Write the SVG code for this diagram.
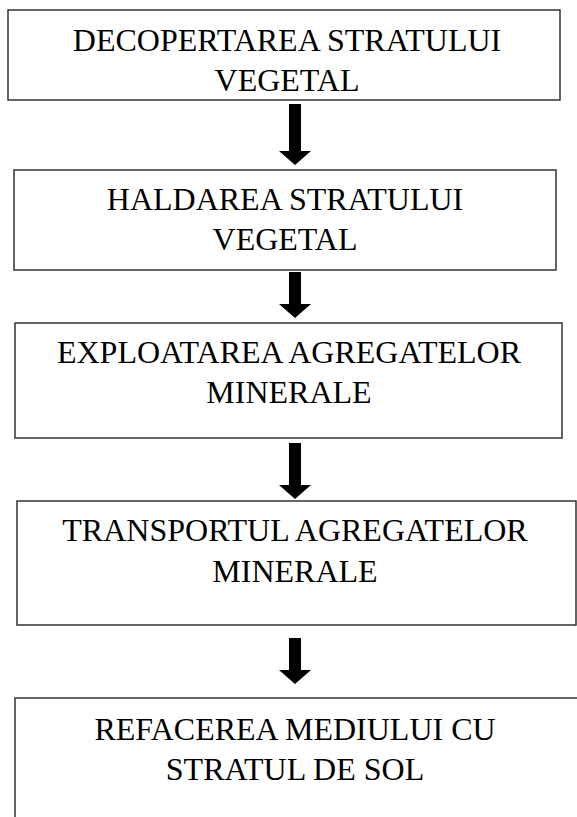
<svg xmlns="http://www.w3.org/2000/svg" width="577" height="817" viewBox="0 0 577 817">
<style>
.box{fill:#fff;stroke:#333;stroke-width:1.5}
.t{font-family:"Liberation Serif","Times New Roman",serif;font-size:32px;fill:#000;text-anchor:middle}
.arr{fill:#000}
</style>
<rect width="577" height="817" fill="#fff"/>
<defs>
<path id="arrow" d="M-6,0 H6 V47 H16 L0,61 L-16,47 H-6 Z"/>
</defs>
<g id="n1"><rect class="box" x="8" y="10" width="552" height="90"/>
<text class="t" x="287" y="51">DECOPERTAREA STRATULUI</text>
<text class="t" x="287" y="91">VEGETAL</text></g>
<g id="n2"><rect class="box" x="14" y="170" width="542" height="100"/>
<text class="t" x="285" y="210">HALDAREA STRATULUI</text>
<text class="t" x="285" y="250">VEGETAL</text></g>
<g id="n3"><rect class="box" x="15" y="323" width="547" height="115"/>
<text class="t" x="289" y="363">EXPLOATAREA AGREGATELOR</text>
<text class="t" x="289" y="403">MINERALE</text></g>
<g id="n4"><rect class="box" x="17" y="501" width="559" height="124"/>
<text class="t" x="295" y="541">TRANSPORTUL AGREGATELOR</text>
<text class="t" x="295" y="582">MINERALE</text></g>
<g id="n5"><rect class="box" x="15" y="698" width="580" height="140"/>
<text class="t" x="295" y="740">REFACEREA MEDIULUI CU</text>
<text class="t" x="295" y="780">STRATUL DE SOL</text></g>
<g id="connectors" class="arr">
<path d="M289,104 H301 V151 H311 L295,165 L279,151 H289 Z"/>
<path d="M289,272 H301 V304 H311 L295,318 L279,304 H289 Z"/>
<path d="M289,443 H301 V485 H311 L295,499 L279,485 H289 Z"/>
<path d="M289,638 H301 V670 H311 L295,684 L279,670 H289 Z"/>
</g>
</svg>
